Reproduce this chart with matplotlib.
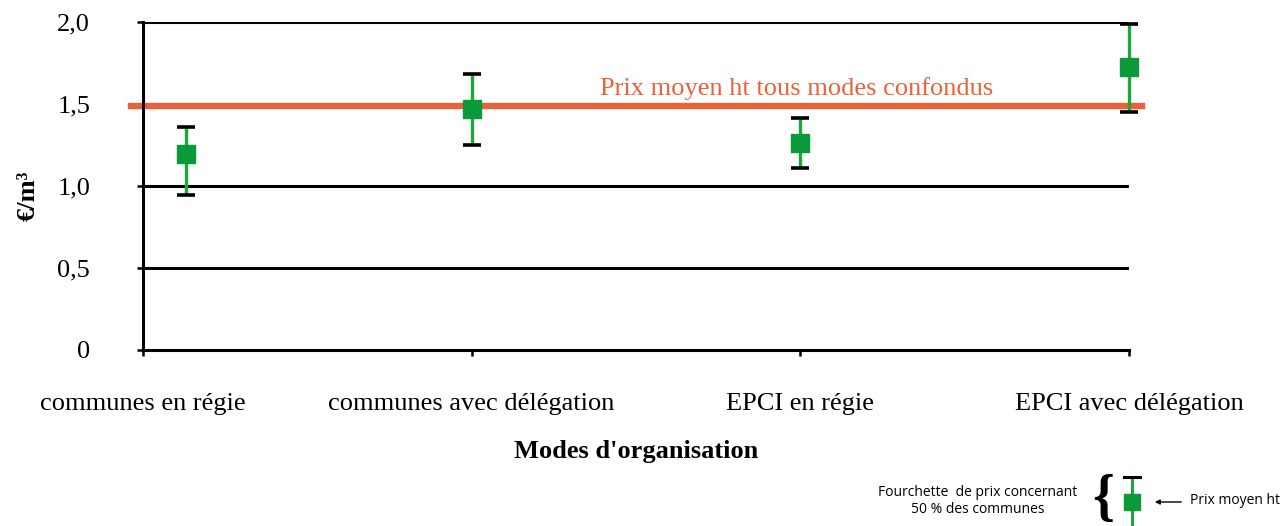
import matplotlib
matplotlib.use("Agg")
import matplotlib.pyplot as plt
from matplotlib.lines import Line2D
import numpy as np

categories = ["communes en régie", "communes avec délégation", "EPCI en régie", "EPCI avec délégation"]
prix_moyen = [1.194, 1.471, 1.263, 1.73]
borne_haute = [1.359, 1.684, 1.416, 1.99]
borne_basse = [0.944, 1.251, 1.111, 1.455]
prix_global = 1.49
yticks = [0, 0.5, 1.0, 1.5, 2.0]
ytick_labels = ["0", "0,5", "1,0", "1,5", "2,0"]

GREEN = "#0a9a3a"
GREEN_LINE = "#1ea83a"
ORANGE = "#e8623a"
SERIF = "Liberation Serif"
SANS = "Open Sans"

W, H = 1287, 526
fig = plt.figure(figsize=(W / 100, H / 100), dpi=100)
ax = fig.add_axes([143 / W, 1 - 350 / H, (1129 - 143) / W, (350 - 22.3) / H])

x = np.arange(len(categories)).astype(float)
x_marks = x + np.array([0.13, 0, 0, 0])

ax.set_xlim(0, 3)
ax.set_ylim(0, 2.0)

# grid lines
for yv in [0.5, 1.0, 2.0]:
    ax.axhline(yv, color="black", lw=2.2, zorder=1)

ax.axhline(prix_global, xmin=-0.012, xmax=1.013, color=ORANGE, lw=4.6, zorder=2, clip_on=False)
ax.text(1.99, prix_global + 0.035, "Prix moyen ht tous modes confondus", color=ORANGE,
        fontsize=19, family=SERIF, ha="center", va="bottom")

moy = np.array(prix_moyen)
hi = np.array(borne_haute)
lo = np.array(borne_basse)
ax.vlines(x_marks, lo, hi, color=GREEN_LINE, lw=2.4, zorder=3, clip_on=False)
ax.plot(x_marks, hi, ls="none", marker="_", ms=12.5, mew=2.6, color="black", zorder=4, clip_on=False)
ax.plot(x_marks, lo, ls="none", marker="_", ms=12.5, mew=2.6, color="black", zorder=4, clip_on=False)
ax.plot(x_marks, moy, ls="none", marker="s", ms=12.5, color=GREEN, mec=GREEN, zorder=5, clip_on=False)

for s in ["top", "right"]:
    ax.spines[s].set_visible(False)
ax.spines["left"].set_linewidth(2.2)
ax.spines["bottom"].set_linewidth(2.2)

ax.set_yticks(yticks)
ax.set_yticklabels(ytick_labels, family=SERIF, fontsize=19)
ax.set_xticks(x)
ax.set_xticklabels(categories, family=SERIF, fontsize=19)
ax.tick_params(axis="y", length=4, width=1.8, pad=34, direction="out")
ax.tick_params(axis="x", length=4, width=1.8, pad=27, direction="out")

ax.set_xlabel("Modes d'organisation", family=SERIF, fontsize=19, fontweight="bold", labelpad=18)
ax.set_ylabel("€/m³", family=SERIF, fontsize=19, fontweight="bold")
ax.yaxis.set_label_coords(-0.105, 0.47)

# legend (figure pixel coordinates)
def fx(px):
    return px / W

def fy(py):
    return 1 - py / H

fig.text(fx(978), fy(501), "Fourchette  de prix concernant\n50 % des communes", family=SANS,
         fontsize=10, ha="center", va="center", linespacing=1.2)
fig.text(fx(1103), fy(500), "{", family=SERIF, fontsize=40, fontweight="bold", ha="center", va="center")
fig.add_artist(Line2D([fx(1132), fx(1132)], [fy(478), fy(526)], color=GREEN_LINE, lw=2.2,
                      transform=fig.transFigure))
fig.add_artist(Line2D([fx(1124), fx(1140)], [fy(477), fy(477)], color="black", lw=2.2,
                      transform=fig.transFigure))
fig.add_artist(Line2D([fx(1132)], [fy(502)], marker="s", ms=12, color=GREEN, ls="none",
                      transform=fig.transFigure))
ax.annotate("", xy=(fx(1152), fy(502)), xytext=(fx(1184), fy(502)), xycoords="figure fraction",
            arrowprops=dict(arrowstyle="-|>", color="black", lw=1.0, mutation_scale=7))
fig.text(fx(1190), fy(501), "Prix moyen ht", family=SANS, fontsize=10, ha="left", va="center")

fig.savefig("out.png", dpi=100)
